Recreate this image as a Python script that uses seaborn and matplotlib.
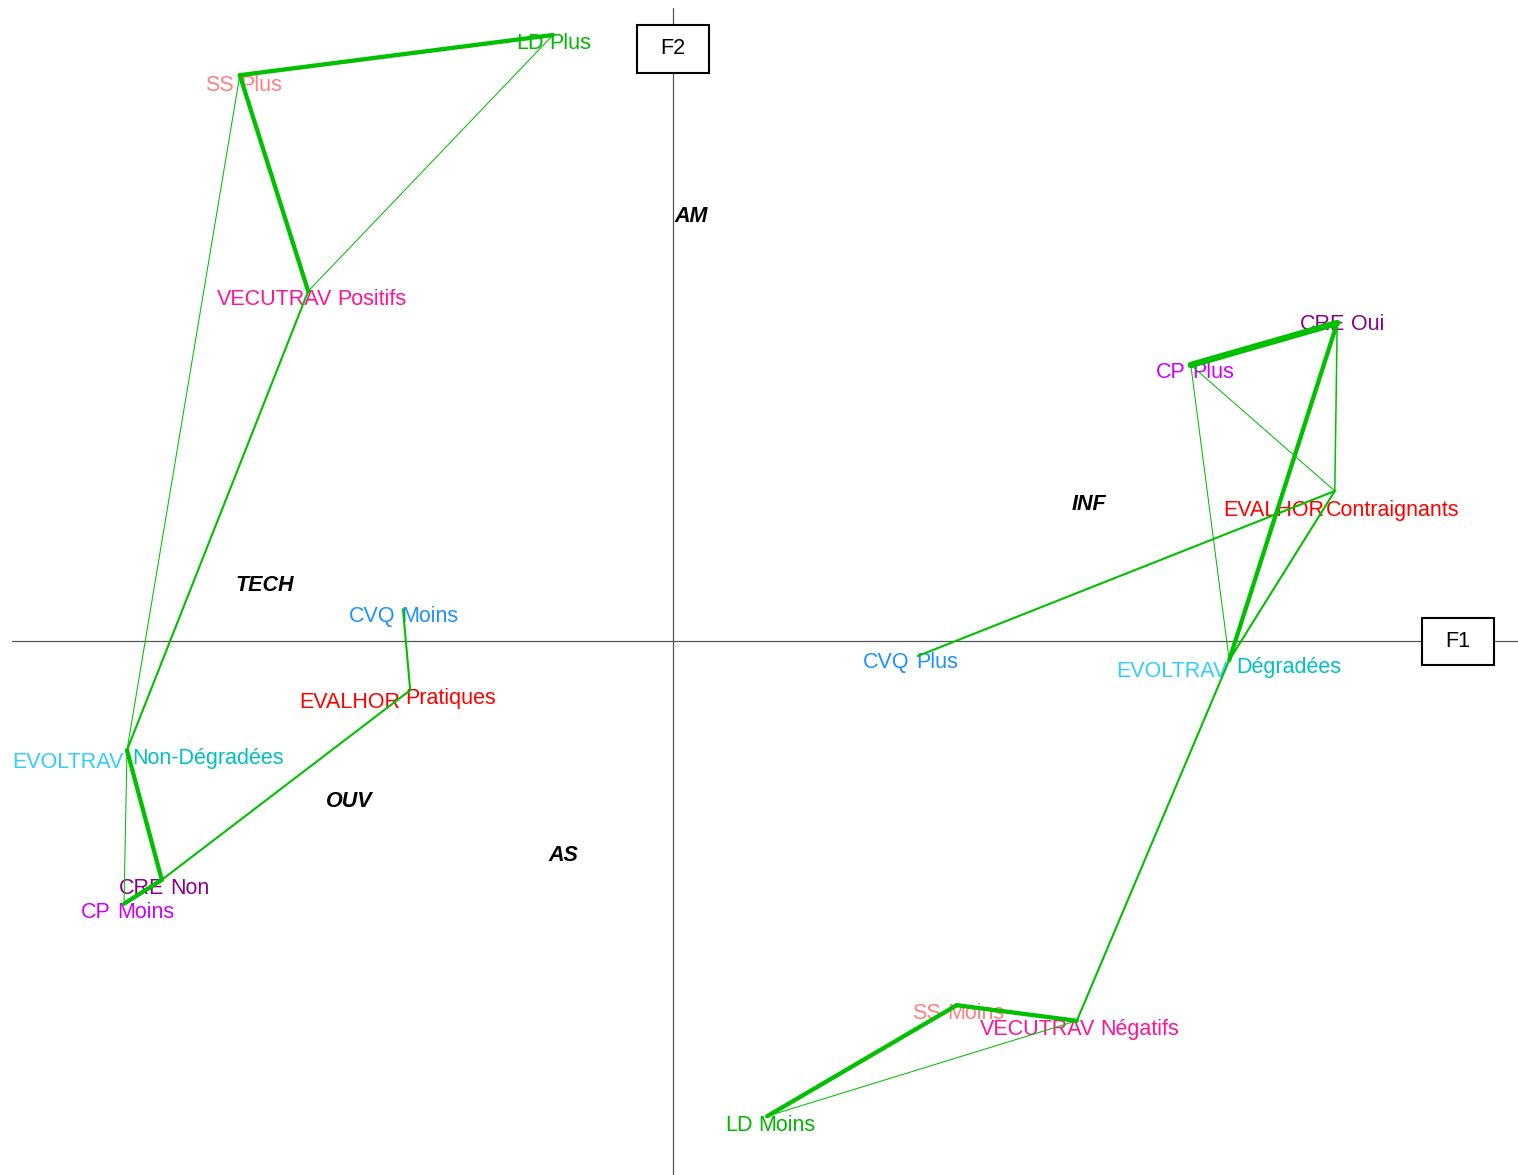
import matplotlib
matplotlib.use("Agg")
import matplotlib.pyplot as plt
from matplotlib.patches import Rectangle
import pandas as pd
import seaborn as sns

# ---------------------------------------------------------------------------
# Data: modality coordinates on factors F1 / F2
# ---------------------------------------------------------------------------
variables = ["LD", "SS", "VECUTRAV", "EVOLTRAV", "CRE", "CP", "CVQ", "EVALHOR",
             "CRE", "CP", "EVALHOR", "CVQ", "EVOLTRAV", "SS", "VECUTRAV", "LD"]
modalities = ["Plus", "Plus", "Positifs", "Non-Dégradées", "Non", "Moins", "Moins",
              "Pratiques", "Oui", "Plus", "Contraignants", "Plus", "Dégradées",
              "Moins", "Négatifs", "Moins"]
f1 = [-0.200, -0.722, -0.608, -0.910, -0.852, -0.915, -0.450, -0.438,
      1.107, 0.863, 1.103, 0.408, 0.927, 0.473, 0.673, 0.157]
f2 = [1.010, 0.943, 0.583, -0.182, -0.398, -0.438, 0.053, -0.082,
      0.530, 0.460, 0.250, -0.025, -0.032, -0.607, -0.633, -0.792]

# links between modalities (strength 1 = weakest, 5 = strongest)
link_from = ["LD Plus", "LD Plus", "SS Plus", "SS Plus", "VECUTRAV Positifs",
             "EVOLTRAV Non-Dégradées", "EVOLTRAV Non-Dégradées", "CRE Non", "CRE Non",
             "EVALHOR Pratiques",
             "LD Moins", "LD Moins", "SS Moins", "VECUTRAV Négatifs",
             "EVOLTRAV Dégradées", "EVOLTRAV Dégradées", "EVOLTRAV Dégradées",
             "CRE Oui", "CRE Oui", "CP Plus", "EVALHOR Contraignants"]
link_to = ["SS Plus", "VECUTRAV Positifs", "VECUTRAV Positifs", "EVOLTRAV Non-Dégradées",
           "EVOLTRAV Non-Dégradées", "CRE Non", "CP Moins", "CP Moins", "EVALHOR Pratiques",
           "CVQ Moins",
           "SS Moins", "VECUTRAV Négatifs", "VECUTRAV Négatifs", "EVOLTRAV Dégradées",
           "CRE Oui", "CP Plus", "EVALHOR Contraignants",
           "CP Plus", "EVALHOR Contraignants", "EVALHOR Contraignants", "CVQ Plus"]
link_strength = [4, 1, 4, 1, 3, 4, 1, 4, 3, 3,
                 4, 1, 4, 3, 4, 1, 3, 5, 2, 1, 3]

# supplementary categories
sup_labels = ["AM", "INF", "TECH", "OUV", "AS"]
sup_f1 = [0.030, 0.693, -0.680, -0.540, -0.182]
sup_f2 = [0.708, 0.228, 0.092, -0.268, -0.358]

# ---------------------------------------------------------------------------
# Style
# ---------------------------------------------------------------------------
sns.set_theme(style="white")
plt.rcParams["font.family"] = ["Liberation Sans", "DejaVu Sans"]
FS = 15.5
LINK_GREEN = "#00C000"
widths = {1: 0.75, 2: 1.1, 3: 1.5, 4: 3.1, 5: 4.6}

name_colors = {"LD": "#00B800", "SS": "#FF8080", "VECUTRAV": "#FF1493",
               "EVOLTRAV": "#33CCFF", "CRE": "#8B008B", "CP": "#CC00FF",
               "CVQ": "#1E90FF", "EVALHOR": "#FF0000"}
mod_colors = dict(name_colors, EVOLTRAV="#00C0C0")

# label placement (pixels): split x shift, text-centre drop, extra drop of name, half gap
label_shift = {
    "LD Plus": (-6.5, 7, 0, 3), "SS Plus": (-2.5, 9, 0, 3),
    "VECUTRAV Positifs": (26.5, 7, 0, 2.5), "EVOLTRAV Non-Dégradées": (1, 7, 4, 4.5),
    "CRE Non": (5.5, 7, 0, 3), "CP Moins": (-10, 7, 0, 3), "CVQ Moins": (-5, 6, 0, 3),
    "EVALHOR Pratiques": (-7, 7, 4, 2.5), "CRE Oui": (11, 0, 0, 3),
    "CP Plus": (-2, 6, 0, 3), "EVALHOR Contraignants": (-10, 18, 0, 1),
    "CVQ Plus": (-5, 5, 0, 3), "EVOLTRAV Dégradées": (3, 6, 4, 4.5),
    "SS Moins": (-13, 7, 0, 3), "VECUTRAV Négatifs": (20.5, 7, 0, 2.5),
    "LD Moins": (-11.5, 8, 0, 3),
}

# ---------------------------------------------------------------------------
# Build tables
# ---------------------------------------------------------------------------
points = pd.DataFrame({"var": variables, "mod": modalities, "F1": f1, "F2": f2})
points["key"] = points["var"] + " " + points["mod"]
pos = points.set_index("key")

rows = []
for k, (a, b, s) in enumerate(zip(link_from, link_to, link_strength)):
    for end in (a, b):
        rows.append({"edge": k, "F1": pos.loc[end, "F1"], "F2": pos.loc[end, "F2"],
                     "strength": s})
links = pd.DataFrame(rows)

# ---------------------------------------------------------------------------
# Figure
# ---------------------------------------------------------------------------
fig = plt.figure(figsize=(15.18, 11.75), dpi=100)
ax = fig.add_axes([0, 0, 1, 1])
ax.set_xlim(-673 / 600, (1518 - 673) / 600)
ax.set_ylim(-(1175 - 641) / 600, 641 / 600)
ax.set_axis_off()

ax.axhline(0, xmin=12 / 1518, xmax=1, color="#555555", linewidth=0.9, zorder=1)
ax.axvline(0, ymin=0, ymax=1 - 8 / 1175, color="#555555", linewidth=0.9, zorder=1)

sns.lineplot(data=links, x="F1", y="F2", units="edge", estimator=None,
             size="strength", sizes=widths, color=LINK_GREEN, sort=False,
             legend=False, ax=ax, zorder=4)

for _, r in points.iterrows():
    dx, dy, dname, gap = label_shift[r["key"]]
    ax.annotate(r["var"], (r["F1"], r["F2"]), xytext=(dx - gap, -(dy + dname) - 7),
                textcoords="offset pixels", ha="right", va="baseline",
                fontsize=FS, color=name_colors[r["var"]], zorder=3)
    ax.annotate(r["mod"], (r["F1"], r["F2"]), xytext=(dx + gap, -dy - 7),
                textcoords="offset pixels", ha="left", va="baseline",
                fontsize=FS, color=mod_colors[r["var"]], zorder=3)

for lab, x, y in zip(sup_labels, sup_f1, sup_f2):
    ax.text(x, y, lab, ha="center", va="center", fontsize=FS,
            fontweight="bold", fontstyle="italic", color="black", zorder=3)

# factor boxes
for lab, cx, cy in [("F1", (1458 - 673) / 600, 0.0), ("F2", 0.0, (641 - 49) / 600)]:
    ax.add_patch(Rectangle((cx - 36 / 600, cy - 23.5 / 600), 72 / 600, 47 / 600,
                           facecolor="white", edgecolor="black", linewidth=1.5,
                           zorder=5))
    ax.text(cx, cy, lab, ha="center", va="center", fontsize=FS, color="black",
            zorder=6)

fig.savefig("out.png", dpi=100)
